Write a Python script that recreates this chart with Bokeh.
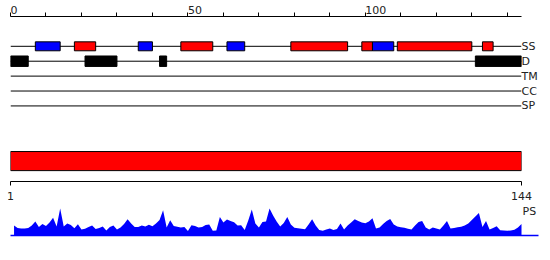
from bokeh.plotting import figure
from bokeh.models import Range1d, LinearAxis, FixedTicker, Label
from bokeh.layouts import column
from bokeh.embed import file_html
from bokeh.resources import INLINE

seq_len = 144
top_major = [0, 50, 100]
top_minor = [10, 20, 30, 40, 60, 70, 80, 90, 110, 120, 130, 140]
bottom_ticks = [1, 144]
track_names = ["SS", "D", "TM", "CC", "SP"]

# secondary structure elements (H = helix, red; E = strand, blue)
ss_start = [7, 18, 36, 48, 61, 79, 99, 102, 109, 133]
ss_end = [14, 24, 40, 57, 66, 95, 102, 108, 130, 136]
ss_type = ["E", "H", "E", "H", "E", "H", "H", "E", "H", "H"]

# disordered regions
dis_start = [0, 21, 42, 131]
dis_end = [5, 30, 44, 144]

# domain
dom_start = [0]
dom_end = [144]

# per-residue PS profile
ps_res = list(range(1, 145))
ps_val = [10, 7.5, 7, 7, 7.5, 10, 14, 8.5, 11.5, 9.5,
          13, 17.7, 9, 27, 9, 12, 10.5, 7.2, 11.2, 6,
          6.8, 8.5, 10, 6.5, 7.5, 9, 5, 8.5, 10, 6,
          8, 11.5, 16.3, 12, 8.6, 8.5, 10, 9, 10.8, 9.3,
          12, 15.5, 25.3, 8, 15.3, 9.5, 8.8, 8, 8.5, 4.5,
          10.3, 9.5, 8, 8.5, 10.5, 11, 4.7, 5, 18.5, 13,
          16, 14.5, 13.2, 10, 10.2, 5.5, 15, 26, 12, 8,
          13.5, 14, 27, 20, 14, 9, 12.5, 18.5, 11, 7.8,
          7.2, 6.8, 6.2, 11, 16.3, 10, 5.5, 4.7, 6, 7,
          5.5, 6.5, 12, 6, 10, 13, 16.3, 14.5, 13, 12.3,
          14, 17.3, 7, 8, 11.5, 14.5, 16.5, 11, 9, 8.3,
          7.7, 6.8, 6, 10, 13.5, 14.5, 8, 6, 8, 7,
          6, 10, 14.5, 7, 7.5, 8.2, 8.8, 10, 12, 15.5,
          19, 22.5, 8.5, 14.5, 6, 7.5, 9.3, 5.3, 5, 4.8,
          5, 5.8, 8, 11.5]

FONT = "DejaVu Sans"
ss_colors = {"H": "#ff0000", "E": "#0000ff"}
NBSP = "\u00a0"

# ---------------- top figure ----------------
p = figure(width=550, height=204, x_range=Range1d(0, seq_len), y_range=Range1d(11.07, 0),
           output_backend="svg", toolbar_location=None,
           x_axis_location=None, y_axis_location=None,
           min_border_left=10, min_border_right=29, min_border_top=15, min_border_bottom=23)
p.grid.visible = False
p.outline_line_color = None
p.background_fill_color = "white"

track_y = [i + 2 for i in range(len(track_names))]

# labels start at their tick (left aligned): pad with no-break spaces as wide as the digits
top_labels = {t: NBSP * (2 * len(str(t))) + str(t) for t in top_major}
top_axis = LinearAxis(ticker=FixedTicker(ticks=top_major, minor_ticks=top_minor),
                      major_label_overrides=top_labels,
                      major_tick_out=4, major_tick_in=0, minor_tick_out=4, minor_tick_in=0,
                      major_label_standoff=-4, major_label_text_font=FONT,
                      major_label_text_font_size="11px", major_label_text_color="#222222",
                      axis_line_color="black", major_tick_line_color="black",
                      minor_tick_line_color="black")
p.add_layout(top_axis, "above")

p.extra_x_ranges = {"res": Range1d(1, seq_len)}
bot_axis = LinearAxis(x_range_name="res", ticker=FixedTicker(ticks=bottom_ticks, minor_ticks=[]),
                      major_tick_out=4, major_tick_in=0, minor_tick_out=0, minor_tick_in=0,
                      major_label_standoff=6, major_label_text_font=FONT,
                      major_label_text_font_size="11px", major_label_text_color="#222222",
                      axis_line_color="black", major_tick_line_color="black")
p.add_layout(bot_axis, "below")

right_axis = LinearAxis(ticker=FixedTicker(ticks=track_y, minor_ticks=[]),
                        major_label_overrides={y: n for y, n in zip(track_y, track_names)},
                        major_tick_out=0, major_tick_in=0, minor_tick_out=0, minor_tick_in=0,
                        axis_line_color=None, major_label_standoff=0,
                        major_label_text_font=FONT, major_label_text_font_size="11px",
                        major_label_text_color="#222222")
p.add_layout(right_axis, "right")

# track lines
p.segment(x0=[0] * len(track_y), x1=[seq_len] * len(track_y), y0=track_y, y1=track_y,
          line_color="black", line_width=1)

# SS boxes
ss_y = track_y[0]
p.quad(left=ss_start, right=ss_end, top=[ss_y - 0.3] * len(ss_start),
       bottom=[ss_y + 0.3] * len(ss_start),
       fill_color=[ss_colors[t] for t in ss_type], line_color="black", line_width=1)

# disorder boxes
d_y = track_y[1]
p.quad(left=dis_start, right=dis_end, top=[d_y - 0.35] * len(dis_start),
       bottom=[d_y + 0.35] * len(dis_start), fill_color="black", line_color="black")

# domain bar
p.quad(left=dom_start, right=dom_end, top=[9.06], bottom=[10.34],
       fill_color="#ff0000", line_color="black", line_width=1)

# ---------------- PS figure ----------------
px_per = 511 / seq_len
p2 = figure(width=550, height=56, x_range=Range1d(0, 528 / px_per), y_range=Range1d(0, 31),
            output_backend="svg", toolbar_location=None,
            x_axis_location=None, y_axis_location=None, frame_align=False,
            min_border_left=10, min_border_right=12, min_border_top=0, min_border_bottom=25)
p2.grid.visible = False
p2.outline_line_color = None

base_axis = LinearAxis(ticker=FixedTicker(ticks=[], minor_ticks=[]),
                       major_tick_out=0, major_tick_in=0, minor_tick_out=0, minor_tick_in=0,
                       major_label_text_font_size="0px", axis_line_color="#0000ff",
                       axis_line_width=1.3)
p2.add_layout(base_axis, "below")

p2.varea(x=ps_res, y1=[0] * len(ps_res), y2=ps_val, fill_color="#0000ff")

p2.add_layout(Label(x=seq_len, y=24, text="PS", x_offset=1, text_font=FONT,
                    text_font_size="11px", text_color="#222222", text_baseline="middle"))

layout = column(p, p2, spacing=0)
open("out.html", "w").write(file_html(layout, INLINE))
